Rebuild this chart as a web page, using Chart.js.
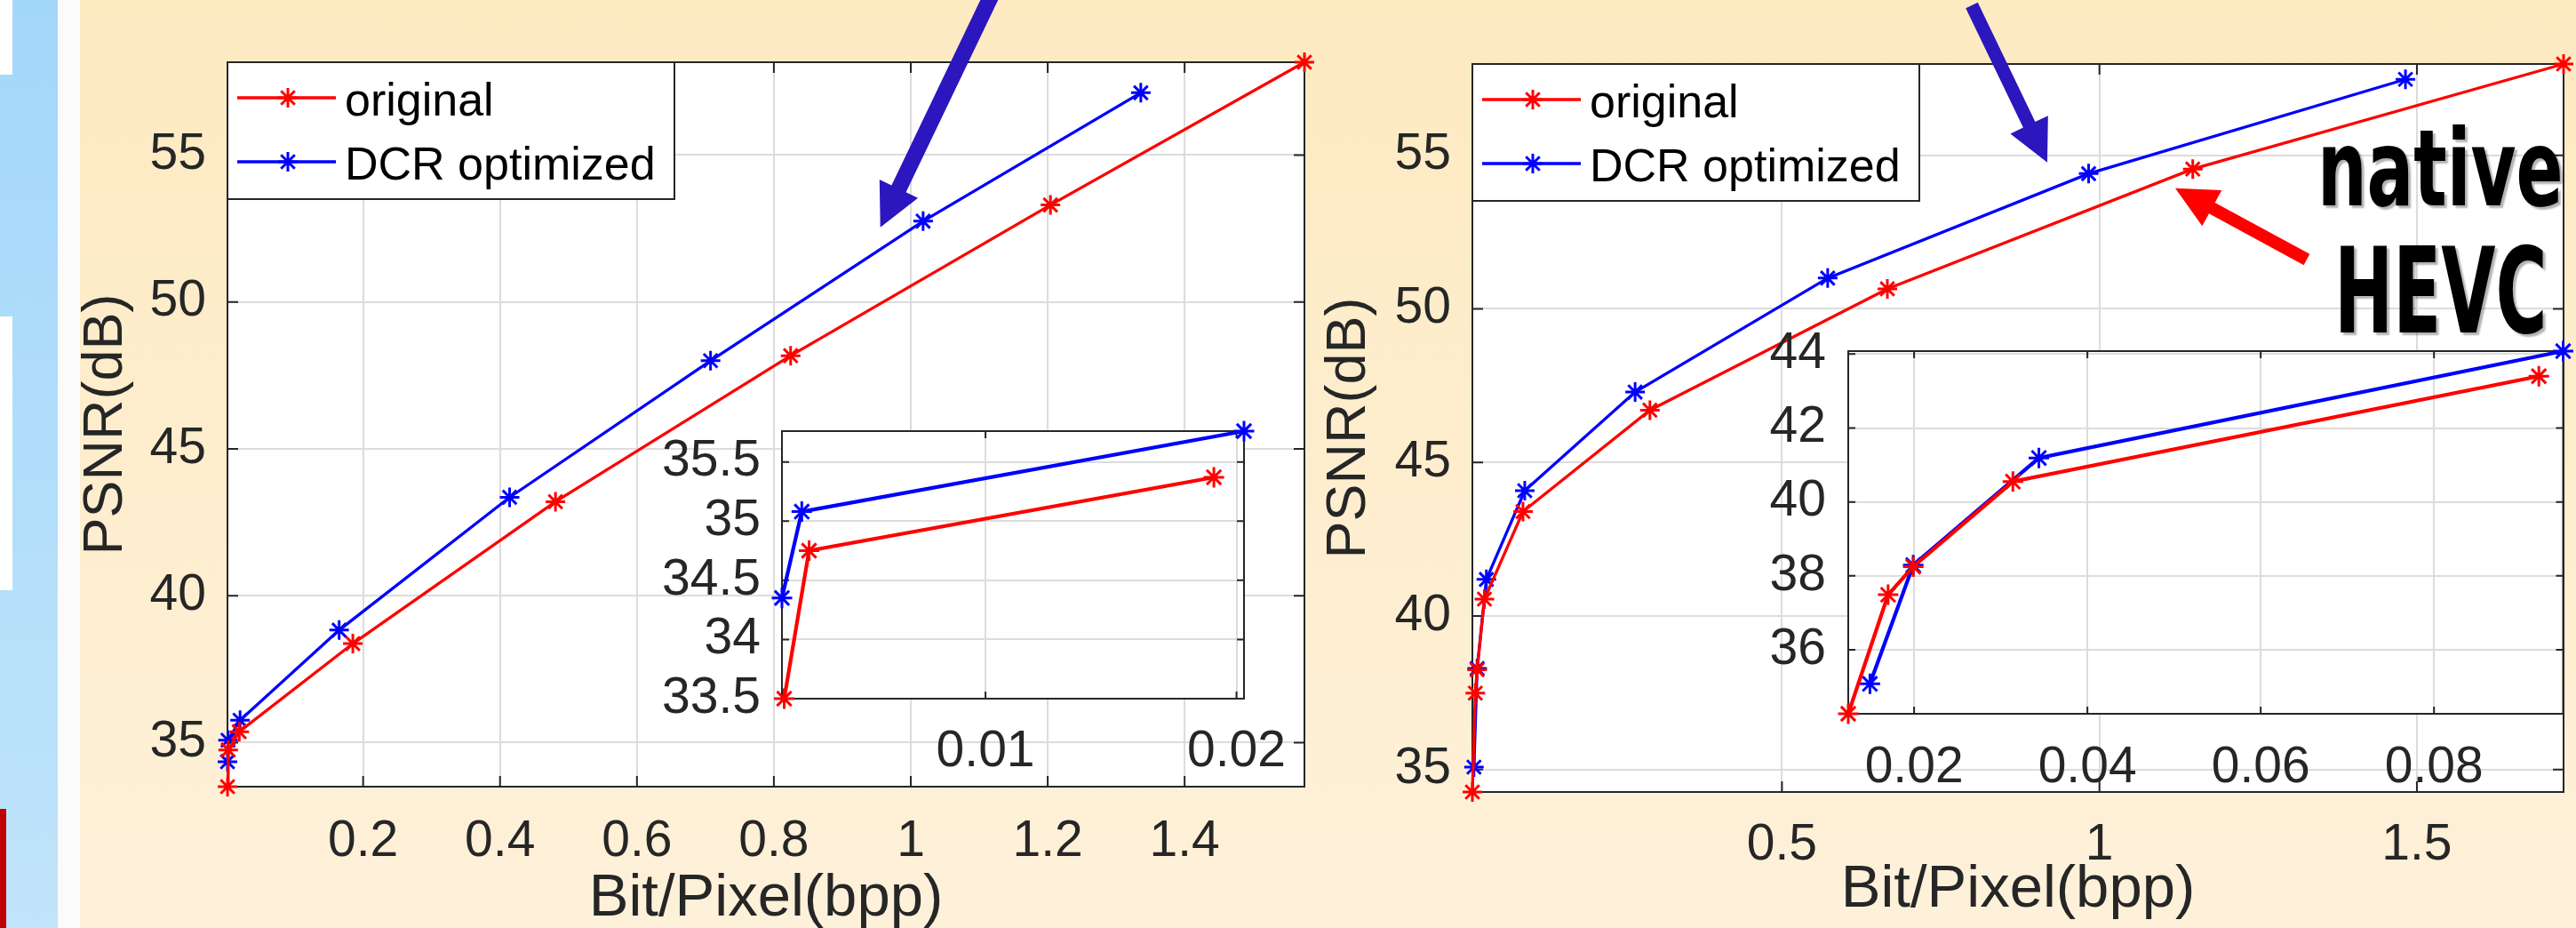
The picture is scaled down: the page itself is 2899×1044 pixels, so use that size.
<!DOCTYPE html>
<html>
<head>
<meta charset="utf-8">
<script src="https://cdn.jsdelivr.net/npm/chart.js@4.4.1/dist/chart.umd.min.js"></script>
<style>
  html, body { margin: 0; padding: 0; width: 2899px; height: 1044px; overflow: hidden; }
  body { position: relative; background: linear-gradient(#FDEAC1, #FEF1DA); }
  #strip { position: absolute; left: 0; top: 0; width: 65px; height: 1044px; background: linear-gradient(#A3D7FA, #C0E4FB); }
  #gap { position: absolute; left: 65px; top: 0; width: 25px; height: 1044px; background: #FBFBFB; }
  .w { position: absolute; left: 0; width: 14px; background: #fff; }
  #red { position: absolute; left: 0; top: 910px; width: 7px; height: 134px; background: #C00000; }
  canvas { position: absolute; left: 0; top: 0; }
</style>
</head>
<body>
<div id="strip"></div>
<div id="gap"></div>
<div class="w" style="top:0;height:84px"></div>
<div class="w" style="top:356px;height:308px"></div>
<div id="red"></div>
<canvas id="leftMain" width="2899" height="1100"></canvas>
<canvas id="rightMain" width="2899" height="1100"></canvas>
<canvas id="leftInset" width="2899" height="1100"></canvas>
<canvas id="rightInset" width="2899" height="1100"></canvas>
<script>
// ---- values (bpp, PSNR dB) ----
const seriesNames = ['original', 'DCR optimized'];

const leftOrigX = [0.00198, 0.00297, 0.0191, 0.185, 0.481, 0.8245, 1.204, 1.575];
const leftOrigY = [33.50, 34.75, 35.37, 38.37, 43.20, 48.17, 53.30, 58.16];
const leftDcrX = [0.00189, 0.00268, 0.0203, 0.165, 0.414, 0.7075, 1.018, 1.336];
const leftDcrY = [34.35, 35.08, 35.76, 38.83, 43.35, 48.00, 52.75, 57.12];

const rightOrigX = [0.0124, 0.0170, 0.0199, 0.0314, 0.0921, 0.292, 0.666, 1.147, 1.731];
const rightOrigY = [34.27, 37.49, 38.25, 40.55, 43.40, 46.70, 50.65, 54.55, 57.97];
const rightDcrX = [0.0149, 0.0199, 0.0344, 0.0949, 0.2687, 0.572, 0.983, 1.482];
const rightDcrY = [35.08, 38.29, 41.19, 44.08, 47.29, 51.00, 54.40, 57.47];

// how many leading points of each curve the zoomed insets show
const leftInsetCount = [3, 3];
const rightInsetCount = [5, 4];

const leftMainXTicks = [0.2, 0.4, 0.6, 0.8, 1, 1.2, 1.4];
const leftMainYTicks = [35, 40, 45, 50, 55];
const leftInsetXTicks = [0.01, 0.02];
const leftInsetYTicks = [33.5, 34, 34.5, 35, 35.5];
const rightMainXTicks = [0.5, 1, 1.5];
const rightMainYTicks = [35, 40, 45, 50, 55];
const rightInsetXTicks = [0.02, 0.04, 0.06, 0.08];
const rightInsetYTicks = [36, 38, 40, 42, 44];

const xLabel = 'Bit/Pixel(bpp)';
const yLabel = 'PSNR(dB)';

//==========================================================================

const FONT = "'Liberation Sans', Arial, sans-serif";
const INK = '#262626';
const CW = 2899, CH = 1100;

function drawStar(ctx, x, y, r, color, lw) {
    ctx.save();
    ctx.strokeStyle = color;
    ctx.lineWidth = lw;
    ctx.beginPath();
    for (let k = 0; k < 4; k++) {
        const a = k * Math.PI / 4;
        ctx.moveTo(x - Math.cos(a) * r, y - Math.sin(a) * r);
        ctx.lineTo(x + Math.cos(a) * r, y + Math.sin(a) * r);
    }
    ctx.stroke();
    ctx.restore();
}

// white plot box, inward ticks on every side, dark frame (MATLAB "box on")
const matlabAxes = {
    id: 'matlabAxes',
    beforeDraw(chart) {
        const {ctx, chartArea: a} = chart;
        ctx.save();
        ctx.fillStyle = '#fff';
        ctx.fillRect(a.left, a.top, a.right - a.left, a.bottom - a.top);
        ctx.restore();
    },
    beforeDatasetsDraw(chart, args, opts) {
        const {ctx, chartArea: a, scales} = chart;
        const len = opts.tickLen;
        ctx.save();
        ctx.strokeStyle = INK;
        ctx.lineWidth = 2;
        ctx.beginPath();
        scales.x.ticks.forEach(t => {
            const px = scales.x.getPixelForValue(t.value);
            ctx.moveTo(px, a.bottom); ctx.lineTo(px, a.bottom - len);
            ctx.moveTo(px, a.top); ctx.lineTo(px, a.top + len);
        });
        scales.y.ticks.forEach(t => {
            const py = scales.y.getPixelForValue(t.value);
            ctx.moveTo(a.left, py); ctx.lineTo(a.left + len, py);
            ctx.moveTo(a.right, py); ctx.lineTo(a.right - len, py);
        });
        ctx.stroke();
        ctx.strokeRect(a.left, a.top, a.right - a.left, a.bottom - a.top);
        ctx.restore();
    }
};

// MATLAB style legend box in the upper left corner
const boxLegend = {
    id: 'boxLegend',
    afterDatasetsDraw(chart, args, opts) {
        if (!opts.show) return;
        const {ctx, chartArea: a} = chart;
        ctx.save();
        ctx.fillStyle = '#fff';
        ctx.fillRect(a.left, a.top, opts.width, opts.height);
        ctx.strokeStyle = INK;
        ctx.lineWidth = 2;
        ctx.strokeRect(a.left, a.top, opts.width, opts.height);
        ctx.font = '52px ' + FONT;
        ctx.textBaseline = 'alphabetic';
        chart.data.datasets.forEach((ds, i) => {
            const y = a.top + 40 + i * 72;
            ctx.strokeStyle = ds.borderColor;
            ctx.lineWidth = 3.3;
            ctx.beginPath();
            ctx.moveTo(a.left + 11, y);
            ctx.lineTo(a.left + 122, y);
            ctx.stroke();
            drawStar(ctx, a.left + 68, y, 11, ds.borderColor, 3);
            ctx.fillStyle = '#000';
            ctx.fillText(ds.label, a.left + 132, y + 20);
        });
        ctx.restore();
    }
};

// arrows and the "native HEVC" call-out pasted on the slide
const noteArrows = [
    // tail x, tail y, tip x, tip y, shaft, head width, head length, colour
    [1120, -14, 990.7, 255.7, 18, 48, 48, '#2C16BE'],
    [2219, 6, 2304, 182.7, 15, 47, 47, '#2C16BE'],
    [2596, 292, 2448, 211.7, 14, 46, 47, '#FF0000']
];

function drawArrow(ctx, x0, y0, x1, y1, shaft, headW, headL, color) {
    const dx = x1 - x0, dy = y1 - y0, L = Math.hypot(dx, dy);
    const ux = dx / L, uy = dy / L, nx = -uy, ny = ux;
    const bx = x1 - ux * headL, by = y1 - uy * headL;
    ctx.beginPath();
    ctx.moveTo(x0 + nx * shaft / 2, y0 + ny * shaft / 2);
    ctx.lineTo(bx + nx * shaft / 2, by + ny * shaft / 2);
    ctx.lineTo(bx + nx * headW / 2, by + ny * headW / 2);
    ctx.lineTo(x1, y1);
    ctx.lineTo(bx - nx * headW / 2, by - ny * headW / 2);
    ctx.lineTo(bx - nx * shaft / 2, by - ny * shaft / 2);
    ctx.lineTo(x0 - nx * shaft / 2, y0 - ny * shaft / 2);
    ctx.closePath();
    ctx.fillStyle = color;
    ctx.fill();
}

// stretch a bold word into the box it fills on the slide
function fitText(ctx, text, left, right, top, bottom) {
    ctx.font = "bold 100px 'DejaVu Sans', sans-serif";
    if ('fontStretch' in ctx) ctx.fontStretch = 'condensed';
    const m = ctx.measureText(text);
    const w = m.actualBoundingBoxLeft + m.actualBoundingBoxRight;
    const h = m.actualBoundingBoxAscent + m.actualBoundingBoxDescent;
    const sx = (right - left) / w, sy = (bottom - top) / h;
    ctx.save();
    ctx.translate(left + m.actualBoundingBoxLeft * sx, top + m.actualBoundingBoxAscent * sy);
    ctx.scale(sx, sy);
    ctx.textAlign = 'left';
    ctx.textBaseline = 'alphabetic';
    ctx.fillStyle = '#000';
    ctx.shadowColor = 'rgba(0,0,0,0.3)';
    ctx.shadowOffsetX = 3;
    ctx.shadowOffsetY = 3;
    ctx.shadowBlur = 2;
    ctx.fillText(text, 0, 0);
    ctx.restore();
}

const slideNotes = {
    id: 'slideNotes',
    afterDraw(chart) {
        const ctx = chart.ctx;
        ctx.save();
        noteArrows.forEach(a => drawArrow(ctx, ...a));
        fitText(ctx, 'native', 2614, 2881, 140, 232);
        fitText(ctx, 'HEVC', 2634, 2862, 273, 375);
        ctx.restore();
    }
};

function pts(xs, ys, n) {
    return xs.slice(0, n).map((x, i) => ({x: x, y: ys[i]}));
}

function makeChart(id, s) {
    const red = pts(s.origX, s.origY, s.counts[0]);
    const blue = pts(s.dcrX, s.dcrY, s.counts[1]);
    const all = red.concat(blue);
    // axis tight, as in the figure
    const xMin = Math.min(...all.map(p => p.x)), xMax = Math.max(...all.map(p => p.x));
    const yMin = Math.min(...all.map(p => p.y)), yMax = Math.max(...all.map(p => p.y));
    const a = s.area;
    const tickFont = {family: FONT, size: 57};

    const dataset = (label, data, color) => ({
        label: label,
        data: data,
        showLine: true,
        borderColor: color,
        backgroundColor: color,
        borderWidth: s.line,
        pointStyle: 'star',
        pointRadius: s.radius,
        pointBorderWidth: 3,
        pointBorderColor: color,
        tension: 0,
        clip: false
    });

    return new Chart(document.getElementById(id), {
        type: 'scatter',
        data: {
            datasets: [
                dataset(seriesNames[0], red, '#FF0000'),
                dataset(seriesNames[1], blue, '#0000FF')
            ]
        },
        options: {
            responsive: false,
            animation: false,
            devicePixelRatio: 1,
            events: [],
            layout: {
                padding: {left: s.padL, right: CW - a.r, top: a.t, bottom: CH - a.b - s.xh}
            },
            plugins: {
                legend: {display: false},
                tooltip: {enabled: false},
                matlabAxes: {tickLen: s.tickLen},
                boxLegend: {show: s.legend, width: 503, height: 154}
            },
            scales: {
                x: {
                    type: 'linear',
                    min: xMin,
                    max: xMax,
                    afterBuildTicks: sc => { sc.ticks = s.xTicks.map(v => ({value: v})); },
                    afterFit: sc => { sc.height = s.xh; },
                    grid: {color: '#DCDCDC', lineWidth: 2, drawTicks: false},
                    border: {display: false},
                    ticks: {font: tickFont, color: INK, padding: s.xPad, maxRotation: 0, autoSkip: false,
                            callback: v => String(v)},
                    title: s.xTitlePad === undefined ? {display: false} : {
                        display: true, text: xLabel, color: INK,
                        font: {family: FONT, size: 67}, padding: {top: 0, bottom: s.xTitlePad}
                    }
                },
                y: {
                    type: 'linear',
                    min: yMin,
                    max: yMax,
                    afterBuildTicks: sc => { sc.ticks = s.yTicks.map(v => ({value: v})); },
                    afterFit: sc => { sc.width = a.l - s.padL; },
                    grid: {color: '#DCDCDC', lineWidth: 2, drawTicks: false},
                    border: {display: false},
                    ticks: {font: tickFont, color: INK, padding: s.yPad, autoSkip: false,
                            callback: v => String(v)},
                    title: s.yTitlePad === undefined ? {display: false} : {
                        display: true, text: yLabel, color: INK,
                        font: {family: FONT, size: 63}, padding: {top: s.yTitlePad, bottom: 0}
                    }
                }
            }
        },
        plugins: [matlabAxes, boxLegend].concat(s.extra || [])
    });
}

makeChart('leftMain', {
    origX: leftOrigX, origY: leftOrigY, dcrX: leftDcrX, dcrY: leftDcrY,
    counts: [leftOrigX.length, leftDcrX.length],
    xTicks: leftMainXTicks, yTicks: leftMainYTicks,
    area: {l: 256, r: 1468, t: 70, b: 885},
    padL: 60, xh: 175, xPad: 28, yPad: 24, xTitlePad: 8, yTitlePad: 22,
    line: 3.3, radius: 11, tickLen: 12, legend: true
});

makeChart('rightMain', {
    origX: rightOrigX, origY: rightOrigY, dcrX: rightDcrX, dcrY: rightDcrY,
    counts: [rightOrigX.length, rightDcrX.length],
    xTicks: rightMainXTicks, yTicks: rightMainYTicks,
    area: {l: 1657, r: 2892, t: 72, b: 891},
    padL: 1450, xh: 169, xPad: 26, yPad: 24, xTitlePad: 18, yTitlePad: 31,
    line: 3.3, radius: 11, tickLen: 12, legend: true,
    extra: [slideNotes]
});

makeChart('leftInset', {
    origX: leftOrigX, origY: leftOrigY, dcrX: leftDcrX, dcrY: leftDcrY,
    counts: leftInsetCount,
    xTicks: leftInsetXTicks, yTicks: leftInsetYTicks,
    area: {l: 880, r: 1400, t: 485, b: 786},
    padL: 700, xh: 214, xPad: 26, yPad: 24,
    line: 4.2, radius: 11.5, tickLen: 8, legend: false
});

makeChart('rightInset', {
    origX: rightOrigX, origY: rightOrigY, dcrX: rightDcrX, dcrY: rightDcrY,
    counts: rightInsetCount,
    xTicks: rightInsetXTicks, yTicks: rightInsetYTicks,
    area: {l: 2080, r: 2892, t: 395, b: 803},
    padL: 1900, xh: 197, xPad: 27, yPad: 25,
    line: 4.2, radius: 11.5, tickLen: 8, legend: false
});
</script>
</body>
</html>
